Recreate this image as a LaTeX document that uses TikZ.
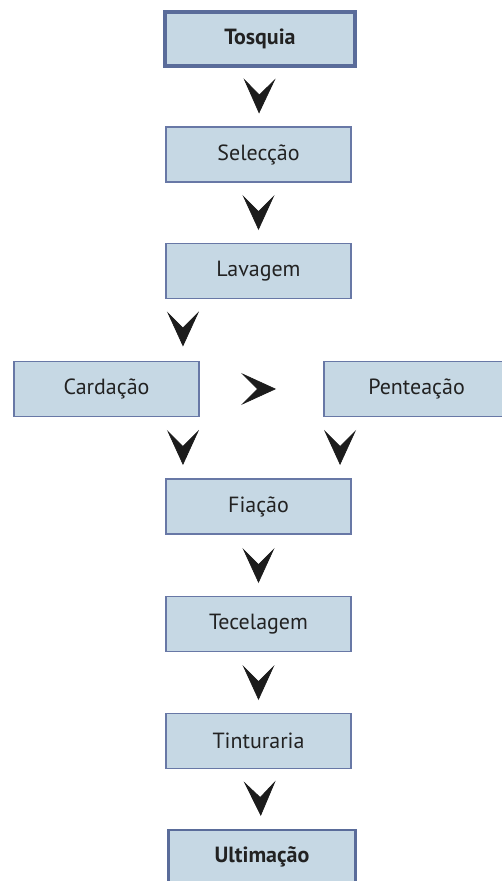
\documentclass[tikz,border=0pt]{standalone}
\usepackage{fontspec}
\newfontfamily\ptsans{PT Sans}
\usepackage{tikz}
\usetikzlibrary{arrows.meta,positioning,calc}
\usepackage{xcolor}

\definecolor{boxfill}{HTML}{C6D8E4}
\definecolor{boxedge}{HTML}{6878A6}
\definecolor{keyedge}{HTML}{5A6C9A}
\definecolor{tipcol}{HTML}{1C1C1C}
\definecolor{txt}{HTML}{222222}

\tikzset{
    stepbox/.style={draw=boxedge, fill=boxfill, line width=1.1pt, minimum width=3.70cm,
        minimum height=1.10cm, inner sep=0pt, text=txt, font=\ptsans\fontsize{12.5}{15}\selectfont},
    keybox/.style={stepbox, draw=keyedge, line width=2.2pt, minimum width=3.80cm,
        minimum height=1.08cm, font=\ptsans\bfseries\fontsize{12.5}{15}\selectfont},
    chev/.style={draw=white, line width=0.4pt,
        -{Stealth[length=0.7cm, width=0.64cm, inset=0.32cm, color=tipcol]},
        shorten <=#1, shorten >=#1},
    chev/.default=0.25cm
}

\begin{document}
\begin{tikzpicture}
    \useasboundingbox (0,0) rectangle (10.02,17.62);

    % Main line of steps
    \node[keybox]  (tosquia)    at (5.20,16.84) {Tosquia};
    \node[stepbox] (seleccao)   at (5.17,14.53) {Selecção};
    \node[stepbox] (lavagem)    at (5.17,12.20) {Lavagem};

    % Two branches
    \node[stepbox] (cardacao)   at (2.13,9.84) {Cardação};
    \node[stepbox] (penteacao)  at (8.33,9.84) {Penteação};

    \node[stepbox] (fiacao)     at (5.17,7.49) {Fiação};
    \node[stepbox] (tecelagem)  at (5.17,5.14) {Tecelagem};
    \node[stepbox] (tinturaria) at (5.17,2.80) {Tinturaria};
    \node[keybox, minimum width=3.74cm, line width=1.7pt] (ultimacao) at (5.24,0.48) {Ultimação};

    % Arrow columns near the branch boxes
    \coordinate (cardin)  at ($(cardacao.north east)+(-0.34,0)$);
    \coordinate (cardout) at ($(cardacao.south east)+(-0.34,0)$);
    \coordinate (pentout) at ($(penteacao.south west)+(0.34,0)$);

    % Arrowheads
    \draw[chev] (tosquia) -- (seleccao);
    \draw[chev] (seleccao) -- (lavagem);
    \draw[chev=0.28cm] (lavagem.south -| cardin) -- (cardin);
    \draw[chev, shorten <=0.82cm, shorten >=0.94cm] (cardacao) -- (penteacao);
    \draw[chev=0.26cm] (cardout) -- (fiacao.north -| cardout);
    \draw[chev=0.26cm] (pentout) -- (fiacao.north -| pentout);
    \draw[chev] (fiacao) -- (tecelagem);
    \draw[chev] (tecelagem) -- (tinturaria);
    \draw[chev] (tinturaria) -- (ultimacao);
\end{tikzpicture}
\end{document}
